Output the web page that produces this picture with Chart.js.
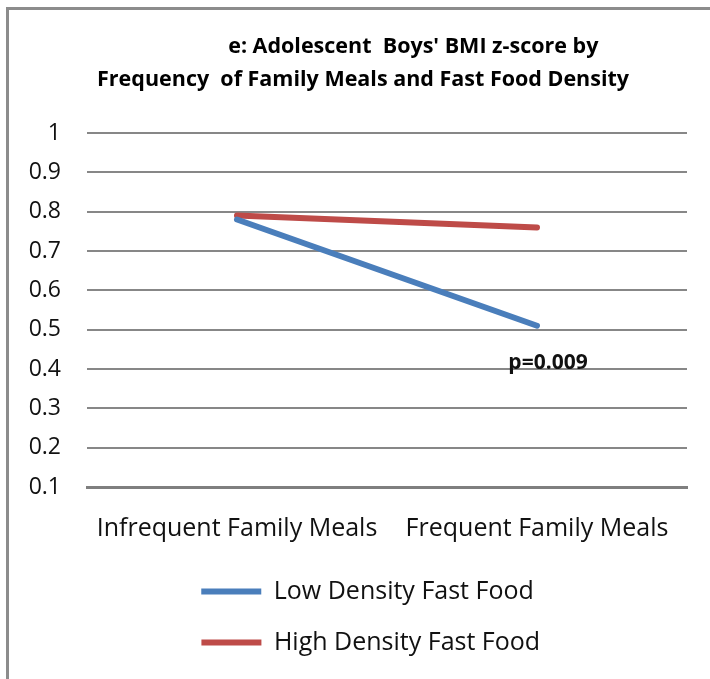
<!DOCTYPE html>
<html>
<head>
<meta charset="utf-8">
<script src="https://cdn.jsdelivr.net/npm/chart.js@4.4.1/dist/chart.umd.min.js"></script>
<style>
  html, body { margin: 0; padding: 0; background: #fff; }
  #wrap { position: relative; width: 710px; height: 679px; }
  #chart { position: absolute; left: 0; top: 0; }
  #frame {
    position: absolute; left: 6px; top: 7px; right: 0; bottom: 0;
    border-left: 3px solid #8c8c8c; border-top: 3px solid #8c8c8c;
    pointer-events: none;
  }
</style>
</head>
<body>
<div id="wrap">
  <canvas id="chart" width="710" height="679"></canvas>
  <div id="frame"></div>
</div>
<script>
const categories = ["Infrequent Family Meals", "Frequent Family Meals"];
const lowDensity = [0.78, 0.51];
const highDensity = [0.79, 0.76];
const seriesNames = ["Low Density Fast Food", "High Density Fast Food"];
const titleLines = [
  "                         e: Adolescent  Boys' BMI z-score by",
  "       Frequency  of Family Meals and Fast Food Density"
];
const pNote = "p=0.009";
const pNoteAt = { category: 1, value: 0.415 };

const FONT = "'Open Sans'";

// p-value note under the blue end point
const notePlugin = {
  id: "note",
  afterDatasetsDraw(chart) {
    const { ctx, scales } = chart;
    const x = scales.x.getPixelForValue(pNoteAt.category) + 11;
    const y = scales.y.getPixelForValue(pNoteAt.value);
    ctx.save();
    ctx.font = "bold 21px " + FONT;
    ctx.fillStyle = "#111";
    ctx.textAlign = "center";
    ctx.textBaseline = "middle";
    ctx.fillText(pNote, x, y);
    ctx.restore();
  }
};

new Chart(document.getElementById("chart"), {
  type: "line",
  data: {
    labels: categories,
    datasets: [
      {
        label: seriesNames[0],
        data: lowDensity,
        borderColor: "#4a7ebb",
        backgroundColor: "#4a7ebb",
        borderWidth: 6,
        borderCapStyle: "round",
        pointRadius: 0,
        tension: 0
      },
      {
        label: seriesNames[1],
        data: highDensity,
        borderColor: "#be4b48",
        backgroundColor: "#be4b48",
        borderWidth: 6,
        borderCapStyle: "round",
        pointRadius: 0,
        tension: 0
      }
    ]
  },
  options: {
    responsive: false,
    animation: false,
    layout: { padding: { left: 0, right: 23, top: 0, bottom: 14 } },
    plugins: {
      title: {
        display: true,
        text: titleLines,
        color: "#000",
        font: { family: FONT, size: 21.5, weight: "bold", lineHeight: 33 / 21.5 },
        padding: { top: 30, bottom: 37 }
      },
      legend: {
        position: "bottom",
        fullSize: false,
        labels: {
          usePointStyle: true,
          pointStyle: "line",
          pointStyleWidth: 60,
          padding: 26,
          color: "#111",
          font: { family: FONT, size: 25 },
          // trailing spaces widen the rows so both start further left, like the original
          generateLabels(chart) {
            const items = Chart.defaults.plugins.legend.labels.generateLabels(chart);
            items[0].text += "      ";
            items[1].text += "     ";
            return items;
          }
        }
      },
      tooltip: { enabled: false }
    },
    scales: {
      x: {
        offset: true,
        grid: { display: false, drawTicks: false },
        border: { display: true, color: "#7f7f7f", width: 3 },
        ticks: { color: "#111", font: { family: FONT, size: 25 }, padding: 27, maxRotation: 0 },
        afterFit(scale) { scale.height = 66; }
      },
      y: {
        min: 0.1,
        max: 1,
        grid: {
          color: "#878787",
          lineWidth: 2,
          drawTicks: false
        },
        border: { display: false },
        ticks: {
          stepSize: 0.1,
          padding: 26,
          color: "#111",
          font: { family: FONT, size: 23 },
          callback: v => String(Number(v.toFixed(1)))
        },
        afterFit(scale) { scale.width = 87; }
      }
    }
  },
  plugins: [notePlugin]
});
</script>
</body>
</html>
